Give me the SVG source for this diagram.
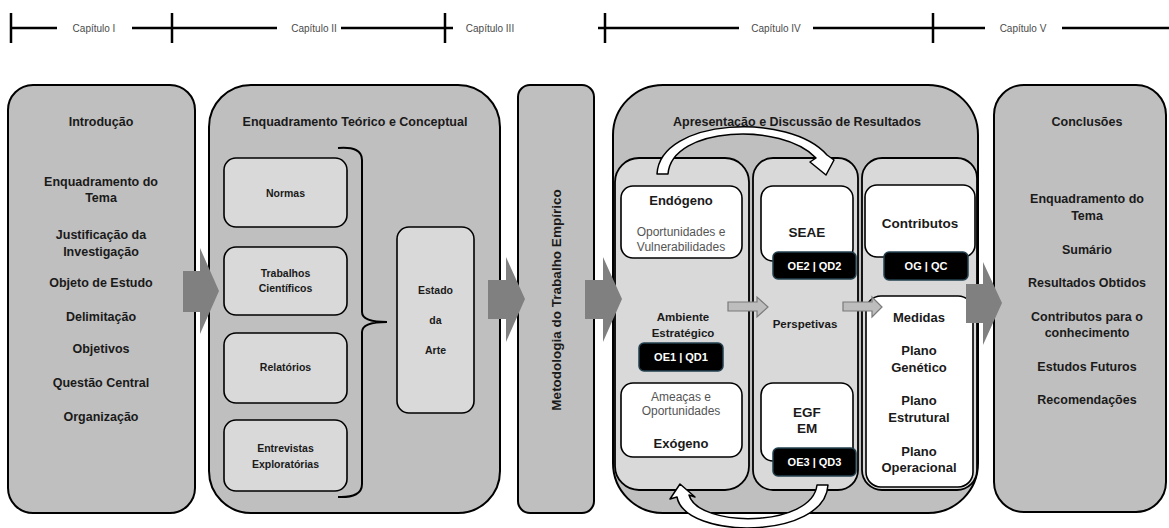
<svg xmlns="http://www.w3.org/2000/svg" width="1169" height="528" viewBox="0 0 1169 528">
<style>
text{font-family:"Liberation Sans",Arial,sans-serif;text-anchor:middle;dominant-baseline:central;fill:#1a1a1a}
.hd{font-size:10px;fill:#4a4a4a}
.b{font-weight:bold;font-size:12.5px}
.t{font-weight:bold;font-size:12.5px}
.s{font-weight:bold;font-size:10.5px}
.m{font-weight:bold;font-size:11.5px}
.l{font-weight:bold;font-size:13.5px}
.g{font-size:12px;fill:#555}
.w{font-weight:bold;font-size:11px;fill:#fff}
.panel{fill:#bfbfbf;stroke:#000;stroke-width:2}
.col{fill:#d9d9d9;stroke:#000;stroke-width:1.8}
.box{fill:#d9d9d9;stroke:#000;stroke-width:1.6}
.wb{fill:#fff;stroke:#000;stroke-width:1.6}
.kb{fill:#000;stroke:#23404f;stroke-width:1.5}
.ax{stroke:#000;stroke-width:2;fill:none}
.tl{stroke:#000;stroke-width:2.5;fill:none}
.big{fill:#808080}
.sm{fill:#bdbdbd;stroke:#7a7a7a;stroke-width:1.2}
.cv{fill:#fff;stroke:#000;stroke-width:1.5;stroke-linejoin:round}
</style>
<g id="timeline">
<path class="tl" d="M11,28H57M132,28H277M341,28H453M598,28H739M813,28H985M1062,28H1169M11,13V43M172,13V43M445,13V43M605,13V43M933,13V43"/>
<text class="hd" x="94" y="28">Capítulo I</text>
<text class="hd" x="314" y="28">Capítulo II</text>
<text class="hd" x="490" y="28">Capítulo III</text>
<text class="hd" x="776" y="28">Capítulo IV</text>
<text class="hd" x="1023" y="28">Capítulo V</text>
</g>
<g id="introducao">
<rect class="panel" x="8" y="85" width="187" height="428" rx="25"/>
<text class="t" x="101" y="122">Introdução</text>
<text class="b" x="101" y="182">Enquadramento do</text>
<text class="b" x="101" y="198">Tema</text>
<text class="b" x="101" y="235">Justificação da</text>
<text class="b" x="101" y="252">Investigação</text>
<text class="b" x="101" y="283">Objeto de Estudo</text>
<text class="b" x="101" y="317">Delimitação</text>
<text class="b" x="101" y="349">Objetivos</text>
<text class="b" x="101" y="383">Questão Central</text>
<text class="b" x="101" y="417">Organização</text>
</g>
<g id="enquadramento">
<rect class="panel" x="209" y="85" width="291" height="428" rx="42"/>
<text class="t" x="355" y="122">Enquadramento Teórico e Conceptual</text>
</g>
<g id="normas">
<rect class="box" x="224" y="158" width="123" height="69" rx="12"/>
<text class="s" x="285.5" y="193">Normas</text>
</g>
<g id="trabalhos">
<rect class="box" x="224" y="247" width="123" height="68" rx="12"/>
<text class="s" x="285.5" y="273">Trabalhos</text>
<text class="s" x="285.5" y="288">Científicos</text>
</g>
<g id="relatorios">
<rect class="box" x="224" y="333" width="123" height="70" rx="12"/>
<text class="s" x="285.5" y="367">Relatórios</text>
</g>
<g id="entrevistas">
<rect class="box" x="224" y="420" width="123" height="71" rx="12"/>
<text class="s" x="285.5" y="448">Entrevistas</text>
<text class="s" x="285.5" y="464">Exploratórias</text>
</g>
<g id="chaveta">
<path class="ax" d="M338,148Q362,146 362,160L362,312Q362,322 387,322Q362,322 362,332L362,484Q362,498 338,497"/>
</g>
<g id="estado-arte">
<rect class="box" x="397" y="227" width="77" height="186" rx="12"/>
<text class="s" x="435.5" y="290">Estado</text>
<text class="s" x="435.5" y="320">da</text>
<text class="s" x="435.5" y="350">Arte</text>
</g>
<g id="metodologia">
<rect class="panel" x="518" y="85" width="76" height="428" rx="12"/>
<text class="l" x="0" y="0" font-size="14" transform="translate(556,300) rotate(-90)">Metodologia do Trabalho Empírico</text>
</g>
<g id="resultados">
<rect class="panel" x="613" y="85" width="365" height="428" rx="50"/>
<text class="t" x="797" y="122">Apresentação e Discussão de Resultados</text>
</g>
<g id="ambiente">
<rect class="col" x="615" y="158" width="134" height="332" rx="24"/>
<text class="m" x="683" y="317">Ambiente</text>
<text class="m" x="683" y="333">Estratégico</text>
</g>
<g id="endogeno">
<rect class="wb" x="621" y="186" width="121" height="72" rx="12"/>
<text class="l" x="681" y="200" style="font-size:13px">Endógeno</text>
<text class="g" x="681" y="232">Oportunidades e</text>
<text class="g" x="681" y="247">Vulnerabilidades</text>
</g>
<g id="oe1">
<rect class="kb" x="639" y="343" width="84" height="28" rx="5"/>
<text class="w" x="681" y="357">OE1 | QD1</text>
</g>
<g id="exogeno">
<rect class="wb" x="621" y="383" width="121" height="74" rx="12"/>
<text class="g" x="681" y="397">Ameaças e</text>
<text class="g" x="681" y="411">Oportunidades</text>
<text class="l" x="681" y="443" style="font-size:13px">Exógeno</text>
</g>
<g id="perspetivas">
<rect class="col" x="753" y="158" width="105" height="332" rx="20"/>
<text class="m" x="805" y="324">Perspetivas</text>
</g>
<g id="seae">
<rect class="wb" x="761" y="186" width="92" height="75" rx="12"/>
<text class="l" x="807" y="232">SEAE</text>
</g>
<g id="oe2">
<rect class="kb" x="773" y="252" width="83" height="27" rx="5"/>
<text class="w" x="814.5" y="265.5">OE2 | QD2</text>
</g>
<g id="egf">
<rect class="wb" x="761" y="383" width="92" height="78" rx="12"/>
<text class="l" x="807" y="412">EGF</text>
<text class="l" x="807" y="428">EM</text>
</g>
<g id="oe3">
<rect class="kb" x="773" y="448" width="83" height="28" rx="5"/>
<text class="w" x="814.5" y="462">OE3 | QD3</text>
</g>
<g id="coluna-c">
<rect class="col" x="862" y="158" width="115" height="332" rx="20"/>
</g>
<g id="contributos">
<rect class="wb" x="865" y="185" width="110" height="72" rx="12"/>
<text class="l" x="920" y="223">Contributos</text>
</g>
<g id="og">
<rect class="kb" x="884" y="252" width="84" height="28" rx="5"/>
<text class="w" x="926" y="266">OG | QC</text>
</g>
<g id="medidas">
<rect class="wb" x="866" y="296" width="107" height="191" rx="15"/>
<text class="b" x="919" y="317" style="font-size:13px">Medidas</text>
<text class="b" x="919" y="350" style="font-size:13px">Plano</text>
<text class="b" x="919" y="367" style="font-size:13px">Genético</text>
<text class="b" x="919" y="400" style="font-size:13px">Plano</text>
<text class="b" x="919" y="417" style="font-size:13px">Estrutural</text>
<text class="b" x="919" y="451" style="font-size:13px">Plano</text>
<text class="b" x="919" y="467" style="font-size:13px">Operacional</text>
</g>
<g id="conclusoes">
<rect class="panel" x="994" y="85" width="172" height="427" rx="30"/>
<text class="t" x="1087" y="122">Conclusões</text>
<text class="b" x="1087" y="199">Enquadramento do</text>
<text class="b" x="1087" y="216">Tema</text>
<text class="b" x="1087" y="250">Sumário</text>
<text class="b" x="1087" y="283">Resultados Obtidos</text>
<text class="b" x="1087" y="317">Contributos para o</text>
<text class="b" x="1087" y="333">conhecimento</text>
<text class="b" x="1087" y="367">Estudos Futuros</text>
<text class="b" x="1087" y="400">Recomendações</text>
</g>
<g id="connectors">
<polygon class="big" points="183,271 200,271 200,248 219,291 200,334 200,312 183,312"/>
<polygon class="big" points="488,280 506,280 506,257 525,299 506,342 506,319 488,319"/>
<polygon class="big" points="585,280 603,280 603,257 622,299 603,342 603,319 585,319"/>
<polygon class="big" points="966,284 983,284 983,262 1002,303 983,345 983,323 966,323"/>
<polygon class="sm" points="728,302 757,302 757,297 768,307 757,317 757,311 728,311"/>
<polygon class="sm" points="843,302 872,302 872,297 882,307 872,317 872,311 843,311"/>
<path class="cv" d="M657,174L668,174C672,126 782,122 816,158L810,162L826,175L834,160L827,155C790,112 660,118 657,174Z"/>
<path class="cv" d="M817,485L828,485C825,540 685,540 677,497L670,499L680,484L695,497L689,495C698,528 812,528 817,485Z"/>
</g>
</svg>
